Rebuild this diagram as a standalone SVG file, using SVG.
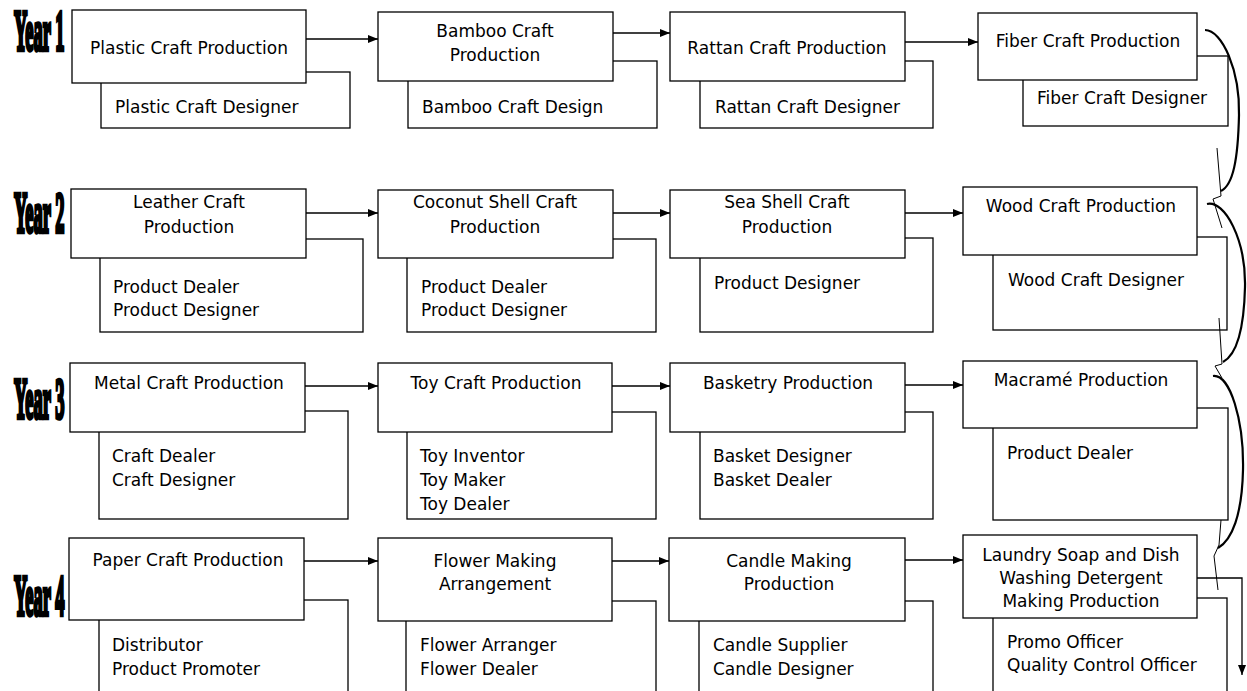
<svg xmlns="http://www.w3.org/2000/svg" width="1247" height="691" viewBox="0 0 1247 691">
<style>
.bx{fill:#fff;stroke:#000;stroke-width:1.3}
.t{font-family:"DejaVu Sans",Verdana,sans-serif;font-size:17px;fill:#000}
.m{text-anchor:middle}
.yr{font-family:"Liberation Serif","DejaVu Serif",serif;font-weight:bold;font-size:56px;fill:#000;stroke:#000;stroke-width:4.5}
.ln{fill:none;stroke:#000;stroke-width:1.3}
.cv{fill:none;stroke:#000;stroke-width:2.2}
.zz{fill:none;stroke:#000;stroke-width:1}
</style>
<defs>
<marker id="ah" markerWidth="10" markerHeight="8" refX="10" refY="4" orient="auto" markerUnits="userSpaceOnUse">
<path d="M0,0 L10,4 L0,8 Z" fill="#000"/>
</marker>
</defs>
<rect width="1247" height="691" fill="#fff"/>

<g id="year-labels">
<text class="yr" transform="translate(14,50) scale(0.33,1)">Year 1</text>
<text class="yr" transform="translate(14,232) scale(0.33,1)">Year 2</text>
<text class="yr" transform="translate(14,418) scale(0.33,1)">Year 3</text>
<text class="yr" transform="translate(14,615) scale(0.33,1)">Year 4</text>
</g>

<g id="plastic">
<rect class="bx" x="101" y="72" width="249" height="56"/>
<rect class="bx" x="72" y="10" width="234" height="73"/>
<text class="t m" x="189" y="54">Plastic Craft Production</text>
<text class="t" x="115" y="113">Plastic Craft Designer</text>
</g>
<g id="bamboo">
<rect class="bx" x="408" y="61" width="249" height="67"/>
<rect class="bx" x="378" y="12" width="235" height="69"/>
<text class="t m" x="495" y="37">Bamboo Craft</text>
<text class="t m" x="495" y="61">Production</text>
<text class="t" x="422" y="113">Bamboo Craft Design</text>
</g>
<g id="rattan">
<rect class="bx" x="700" y="61" width="233" height="67"/>
<rect class="bx" x="670" y="12" width="235" height="69"/>
<text class="t m" x="787" y="54">Rattan Craft Production</text>
<text class="t" x="715" y="113">Rattan Craft Designer</text>
</g>
<g id="fiber">
<rect class="bx" x="1023" y="56" width="205" height="70"/>
<rect class="bx" x="978" y="13" width="219" height="67"/>
<text class="t m" x="1088" y="47">Fiber Craft Production</text>
<text class="t" x="1037" y="104">Fiber Craft Designer</text>
</g>

<g id="leather">
<rect class="bx" x="100" y="239" width="263" height="93"/>
<rect class="bx" x="71" y="189" width="235" height="69"/>
<text class="t m" x="189" y="208">Leather Craft</text>
<text class="t m" x="189" y="233">Production</text>
<text class="t" x="113" y="293">Product Dealer</text>
<text class="t" x="113" y="316">Product Designer</text>
</g>
<g id="coconut">
<rect class="bx" x="407" y="239" width="249" height="93"/>
<rect class="bx" x="378" y="190" width="235" height="68"/>
<text class="t m" x="495" y="208">Coconut Shell Craft</text>
<text class="t m" x="495" y="233">Production</text>
<text class="t" x="421" y="293">Product Dealer</text>
<text class="t" x="421" y="316">Product Designer</text>
</g>
<g id="seashell">
<rect class="bx" x="700" y="238" width="233" height="94"/>
<rect class="bx" x="670" y="190" width="235" height="68"/>
<text class="t m" x="787" y="208">Sea Shell Craft</text>
<text class="t m" x="787" y="233">Production</text>
<text class="t" x="714" y="289">Product Designer</text>
</g>
<g id="wood">
<rect class="bx" x="993" y="237" width="234" height="93"/>
<rect class="bx" x="963" y="187" width="234" height="68"/>
<text class="t m" x="1081" y="212">Wood Craft Production</text>
<text class="t" x="1008" y="286">Wood Craft Designer</text>
</g>

<g id="metal">
<rect class="bx" x="99" y="411" width="249" height="108"/>
<rect class="bx" x="70" y="363" width="235" height="69"/>
<text class="t m" x="189" y="389">Metal Craft Production</text>
<text class="t" x="112" y="462">Craft Dealer</text>
<text class="t" x="112" y="486">Craft Designer</text>
</g>
<g id="toy">
<rect class="bx" x="407" y="412" width="249" height="107"/>
<rect class="bx" x="378" y="363" width="234" height="69"/>
<text class="t m" x="496" y="389">Toy Craft Production</text>
<text class="t" x="420" y="462">Toy Inventor</text>
<text class="t" x="420" y="486">Toy Maker</text>
<text class="t" x="420" y="510">Toy Dealer</text>
</g>
<g id="basketry">
<rect class="bx" x="700" y="412" width="233" height="107"/>
<rect class="bx" x="670" y="363" width="235" height="69"/>
<text class="t m" x="788" y="389">Basketry Production</text>
<text class="t" x="713" y="462">Basket Designer</text>
<text class="t" x="713" y="486">Basket Dealer</text>
</g>
<g id="macrame">
<rect class="bx" x="993" y="408" width="235" height="112"/>
<rect class="bx" x="963" y="361" width="234" height="67"/>
<text class="t m" x="1081" y="386">Macramé Production</text>
<text class="t" x="1007" y="459">Product Dealer</text>
</g>

<g id="paper">
<rect class="bx" x="99" y="600" width="249" height="100"/>
<rect class="bx" x="69" y="538" width="235" height="82"/>
<text class="t m" x="188" y="566">Paper Craft Production</text>
<text class="t" x="112" y="651">Distributor</text>
<text class="t" x="112" y="675">Product Promoter</text>
</g>
<g id="flower">
<rect class="bx" x="406" y="601" width="250" height="100"/>
<rect class="bx" x="378" y="538" width="234" height="83"/>
<text class="t m" x="495" y="567">Flower Making</text>
<text class="t m" x="495" y="590">Arrangement</text>
<text class="t" x="420" y="651">Flower Arranger</text>
<text class="t" x="420" y="675">Flower Dealer</text>
</g>
<g id="candle">
<rect class="bx" x="699" y="601" width="234" height="100"/>
<rect class="bx" x="669" y="538" width="236" height="83"/>
<text class="t m" x="789" y="567">Candle Making</text>
<text class="t m" x="789" y="590">Production</text>
<text class="t" x="713" y="651">Candle Supplier</text>
<text class="t" x="713" y="675">Candle Designer</text>
</g>
<g id="laundry">
<rect class="bx" x="993" y="598" width="234" height="102"/>
<rect class="bx" x="963" y="535" width="234" height="83"/>
<text class="t m" x="1081" y="561">Laundry Soap and Dish</text>
<text class="t m" x="1081" y="584">Washing Detergent</text>
<text class="t m" x="1081" y="607">Making Production</text>
<text class="t" x="1007" y="648">Promo Officer</text>
<text class="t" x="1007" y="671">Quality Control Officer</text>
</g>

<g id="connectors">
<line class="ln" x1="306" y1="39" x2="378" y2="39" marker-end="url(#ah)"/>
<line class="ln" x1="613" y1="33" x2="670" y2="33" marker-end="url(#ah)"/>
<line class="ln" x1="905" y1="42" x2="978" y2="42" marker-end="url(#ah)"/>
<line class="ln" x1="306" y1="213" x2="378" y2="213" marker-end="url(#ah)"/>
<line class="ln" x1="613" y1="213" x2="670" y2="213" marker-end="url(#ah)"/>
<line class="ln" x1="905" y1="213" x2="963" y2="213" marker-end="url(#ah)"/>
<line class="ln" x1="305" y1="386" x2="378" y2="386" marker-end="url(#ah)"/>
<line class="ln" x1="612" y1="386" x2="670" y2="386" marker-end="url(#ah)"/>
<line class="ln" x1="905" y1="385" x2="963" y2="385" marker-end="url(#ah)"/>
<line class="ln" x1="304" y1="561" x2="378" y2="561" marker-end="url(#ah)"/>
<line class="ln" x1="612" y1="561" x2="669" y2="561" marker-end="url(#ah)"/>
<line class="ln" x1="905" y1="560" x2="963" y2="560" marker-end="url(#ah)"/>
<path class="cv" d="M1205,30 C1222,30 1240,70 1239,115 C1238,160 1233,185 1221,191"/>
<path class="cv" d="M1207,204 C1225,200 1246,240 1245,287 C1244,330 1236,355 1223,362"/>
<path class="cv" d="M1213,376 C1230,374 1244,420 1243,470 C1242,515 1232,540 1218,548"/>
<path class="zz" d="M1217,148 L1221,196 L1213,199 L1222,228"/>
<path class="zz" d="M1219,318 L1222,364 L1215,366 L1222,378"/>
<path class="zz" d="M1221,520 L1219,545 L1214,556 L1218,590"/>
<path class="ln" d="M1197,578 L1242,578 L1242,675" marker-end="url(#ah)"/>
</g>
</svg>
